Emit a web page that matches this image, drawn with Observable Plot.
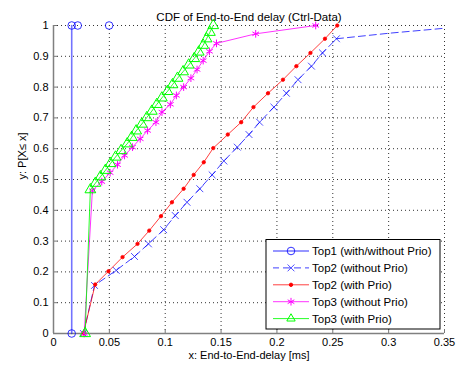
<!DOCTYPE html>
<html>
<head>
<meta charset="utf-8">
<script src="https://cdn.jsdelivr.net/npm/d3@7"></script>
<script src="https://cdn.jsdelivr.net/npm/@observablehq/plot@0.6"></script>
<style>
  html, body { margin: 0; padding: 0; background: #fff; }
  #chart svg { display: block; }
</style>
</head>
<body>
<div id="chart"></div>
<script>
// ---- data ----
const titleText = "CDF of End-to-End delay (Ctrl-Data)";
const xLabel = "x: End-to-End-delay [ms]";
const yLabel = "y: P[X\u2264 x]";
const xTicks = [0, 0.05, 0.1, 0.15, 0.2, 0.25, 0.3, 0.35];
const yTicks = [0, 0.1, 0.2, 0.3, 0.4, 0.5, 0.6, 0.7, 0.8, 0.9, 1];
const seriesNames = ["Top1 (with/without Prio)", "Top2 (without Prio)", "Top2 (with Prio)", "Top3 (without Prio)", "Top3 (with Prio)"];

// Top1 (with/without Prio)
const top1X = [0.0163, 0.0163, 0.0217, 0.0498];
const top1Y = [0, 1, 1, 1];

// Top2 (without Prio)
const top2nX = [0.0268, 0.0367, 0.0561, 0.0725, 0.085, 0.0986, 0.109, 0.1195, 0.131, 0.142, 0.1525, 0.1645, 0.175, 0.1845, 0.1973, 0.2085, 0.2189, 0.2309, 0.2408, 0.2533, 0.3006, 0.3499];
const top2nY = [0, 0.156, 0.205, 0.25, 0.291, 0.337, 0.383, 0.426, 0.47, 0.515, 0.56, 0.605, 0.646, 0.686, 0.735, 0.78, 0.824, 0.868, 0.911, 0.957, 0.975, 0.991];

// Top2 (with Prio)
const top2pX = [0.0268, 0.0373, 0.0492, 0.0618, 0.0752, 0.0857, 0.0962, 0.106, 0.1165, 0.1255, 0.1345, 0.143, 0.156, 0.168, 0.179, 0.192, 0.2054, 0.2174, 0.23, 0.243, 0.254];
const top2pY = [0, 0.159, 0.202, 0.248, 0.291, 0.334, 0.381, 0.426, 0.47, 0.515, 0.556, 0.602, 0.646, 0.686, 0.735, 0.78, 0.824, 0.868, 0.911, 0.957, 1.0];

// Top3 (without Prio)
const top3nX = [0.0275, 0.0348, 0.0432, 0.0507, 0.0573, 0.0636, 0.0707, 0.0776, 0.0842, 0.0917, 0.0971, 0.1046, 0.11, 0.1165, 0.123, 0.1285, 0.134, 0.1396, 0.1459, 0.181, 0.2347];
const top3nY = [0, 0.464, 0.493, 0.522, 0.548, 0.578, 0.605, 0.632, 0.659, 0.686, 0.719, 0.744, 0.773, 0.8, 0.829, 0.857, 0.886, 0.916, 0.942, 0.973, 1.0];

// Top3 (with Prio)
const top3pX = [0.0283, 0.033, 0.0375, 0.042, 0.0465, 0.051, 0.0555, 0.0605, 0.066, 0.07, 0.074, 0.079, 0.0835, 0.088, 0.0925, 0.097, 0.102, 0.1065, 0.111, 0.116, 0.121, 0.126, 0.13, 0.134, 0.137, 0.14, 0.143];
const top3pY = [0, 0.467, 0.488, 0.509, 0.53, 0.552, 0.573, 0.594, 0.616, 0.637, 0.658, 0.68, 0.701, 0.722, 0.744, 0.765, 0.786, 0.808, 0.829, 0.85, 0.872, 0.893, 0.914, 0.936, 0.957, 0.978, 1.0];

// ---- build ----
const pts = (xs, ys) => xs.map((x, i) => ({x, y: ys[i]}));
const t1 = pts(top1X, top1Y);
const t2n = pts(top2nX, top2nY);
const t2p = pts(top2pX, top2pY);
const t3n = pts(top3nX, top3nY);
const t3p = pts(top3pX, top3pY);

const cBlue = "#0000ff", cRed = "#ff0000", cMag = "#ff00ff", cGreen = "#00ff00";
const fmt = d3.format("~g");
const font = "'Liberation Sans', Arial, Helvetica, sans-serif";

const chart = Plot.plot({
  width: 456,
  height: 368,
  marginLeft: 53,
  marginRight: 12,
  marginTop: 25,
  marginBottom: 35,
  x: {domain: [0, 0.35], axis: null},
  y: {domain: [0, 1], axis: null},
  style: {fontFamily: font, fontSize: "11px", background: "#fff", color: "#000", overflow: "visible"},
  marks: [
    // grid
    Plot.ruleX(xTicks.slice(1), {x: d => d, stroke: "#333", strokeDasharray: "1,3", strokeWidth: 1}),
    Plot.ruleY(yTicks.slice(1), {y: d => d, stroke: "#333", strokeDasharray: "1,3", strokeWidth: 1}),
    // inward ticks
    Plot.ruleX(xTicks, {x: d => d, y1: 0, y2: 0.013, stroke: "#777"}),
    Plot.ruleY(yTicks, {y: d => d, x1: 0, x2: 0.0036, stroke: "#777"}),
    // axis lines
    Plot.ruleX([0], {stroke: "#808080", strokeWidth: 1.5}),
    Plot.ruleY([0], {stroke: "#808080", strokeWidth: 1.5}),
    // tick labels
    Plot.text(xTicks, {x: d => d, text: d => fmt(d), frameAnchor: "bottom", dy: 12, fontSize: 11}),
    Plot.text(yTicks, {y: d => d, text: d => fmt(d), frameAnchor: "left", textAnchor: "end", dx: -5, fontSize: 11}),
    // title & labels
    Plot.text([titleText], {frameAnchor: "top", dy: -13, fontSize: 11.5}),
    Plot.text([xLabel], {frameAnchor: "bottom", dy: 25, fontSize: 11}),
    Plot.text([yLabel], {frameAnchor: "left", dx: -31, rotate: -90, fontSize: 11}),

    // Top2 without Prio
    Plot.line(t2n, {x: "x", y: "y", stroke: cBlue, strokeWidth: 1, strokeOpacity: 0.75, strokeDasharray: "7,4"}),
    Plot.dot(t2n.slice(0, 20), {x: "x", y: "y", symbol: "times", r: 3.2, stroke: cBlue, strokeOpacity: 0.7, strokeWidth: 1}),
    // Top2 with Prio
    Plot.line(t2p, {x: "x", y: "y", stroke: cRed, strokeWidth: 1, strokeOpacity: 0.75}),
    Plot.dot(t2p, {x: "x", y: "y", r: 1.7, fill: cRed, stroke: cRed, strokeWidth: 0.8}),
    // Top3 without Prio
    Plot.line(t3n, {x: "x", y: "y", stroke: cMag, strokeWidth: 1, strokeOpacity: 0.8}),
    Plot.dot(t3n, {x: "x", y: "y", symbol: "asterisk", r: 3.6, stroke: cMag, strokeWidth: 1}),
    // Top3 with Prio
    Plot.line(t3p, {x: "x", y: "y", stroke: cGreen, strokeWidth: 1, strokeOpacity: 0.85}),
    Plot.dot(t3p, {x: "x", y: "y", symbol: "triangle", r: 4, stroke: cGreen, strokeWidth: 1, fill: "none"}),
    // Top1
    Plot.line(t1.slice(0, 2), {x: "x", y: "y", stroke: cBlue, strokeWidth: 1.6, strokeOpacity: 0.55}),
    Plot.dot(t1, {x: "x", y: "y", r: 3.8, stroke: cBlue, strokeWidth: 1, strokeOpacity: 0.8, fill: "none"})
  ]
});

document.getElementById("chart").appendChild(chart);

// ---- legend (inside the axes, lower right) ----
const svg = d3.select(chart);
const lg = svg.append("g").attr("font-family", font).attr("font-size", 11.5).attr("text-anchor", "start");
const bx = 266, by = 239.5, bw = 174, bh = 89.5;
lg.append("rect").attr("x", bx).attr("y", by).attr("width", bw).attr("height", bh)
  .attr("fill", "#fff").attr("stroke", "#000").attr("stroke-width", 1);
const entries = [
  {stroke: cBlue, dash: null, op: 0.55, sw: 1.6, sym: d3.symbolCircle, r: 3.8, fill: "none", sop: 0.8},
  {stroke: cBlue, dash: "7,4", op: 0.75, sw: 1, sym: d3.symbolTimes, r: 3.2, fill: "none", sop: 0.7},
  {stroke: cRed, dash: null, op: 0.75, sw: 1, sym: d3.symbolCircle, r: 1.7, fill: cRed, sop: 1},
  {stroke: cMag, dash: null, op: 0.8, sw: 1, sym: d3.symbolAsterisk, r: 3.6, fill: "none", sop: 1},
  {stroke: cGreen, dash: null, op: 0.85, sw: 1, sym: d3.symbolTriangle2, r: 4, fill: "none", sop: 1}
];
entries.forEach((e, i) => {
  const yy = 251 + i * 16.9;
  const l = lg.append("line").attr("x1", 273).attr("x2", 309).attr("y1", yy).attr("y2", yy)
    .attr("stroke", e.stroke).attr("stroke-width", e.sw).attr("stroke-opacity", e.op);
  if (e.dash) l.attr("stroke-dasharray", e.dash).attr("stroke-dashoffset", 1);
  lg.append("path").attr("transform", `translate(291,${yy})`)
    .attr("d", d3.symbol(e.sym, Math.PI * e.r * e.r)())
    .attr("fill", e.fill).attr("stroke", e.stroke).attr("stroke-opacity", e.sop);
  lg.append("text").attr("x", 312).attr("y", yy).attr("dy", "0.35em").attr("text-anchor", "start").text(seriesNames[i]);
});
</script>
</body>
</html>
